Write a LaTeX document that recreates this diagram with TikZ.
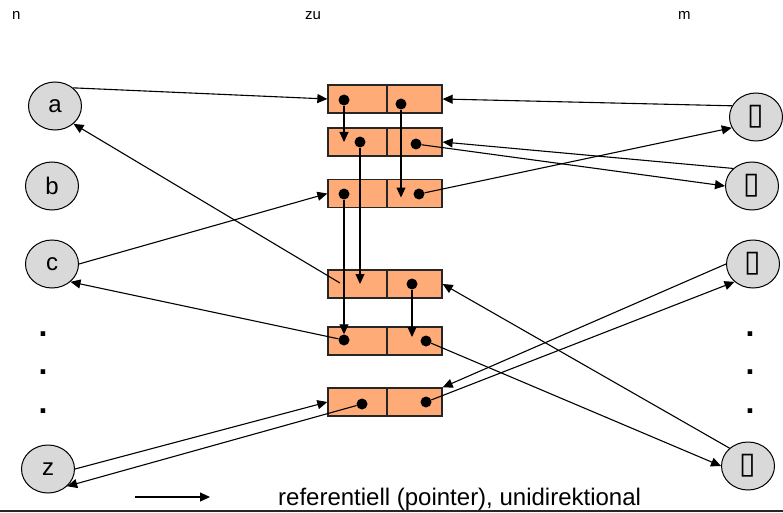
\documentclass[tikz,border=0pt]{standalone}
\usepackage{fontspec}
\setmainfont{Liberation Sans}
\newfontfamily\symfont{DejaVu Sans}
\usetikzlibrary{arrows.meta,shapes.geometric}
\definecolor{boxfill}{RGB}{255,171,120}
\definecolor{circfill}{RGB}{217,217,217}
\begin{document}
\begin{tikzpicture}[x=1pt,y=-1pt,
  cell/.style={draw=black!85, line width=1.3pt, fill=boxfill, minimum height=28pt, inner sep=0pt},
  var/.style={ellipse, draw, line width=1pt, fill=circfill, minimum width=53pt, minimum height=48pt, inner sep=0pt, font=\fontsize{24}{24}\selectfont},
  tofu/.style={var, font=\symfont\fontsize{30}{30}\selectfont},
  dot/.style={circle, fill=black, minimum size=11pt, inner sep=0pt},
  vdot/.style={inner sep=0pt, font=\bfseries\fontsize{32}{32}\selectfont},
  ptr/.style={line width=1.1pt, -{Triangle[length=10pt,width=9pt]}},
  lbl/.style={font=\fontsize{15}{15}\selectfont, anchor=base west, inner sep=0pt}]
\useasboundingbox (0,0) rectangle (783,513);
\fill[white] (0,0) rectangle (783,513);

% column labels
\node[lbl] (n) at (12,20) {n};
\node[lbl] (zu) at (305,20) {zu};
\node[lbl] (m) at (678,20) {m};

% boxes
\foreach \i/\y in {1/99,2/142,3/193.5,4/284,5/341,6/402}{
  \node[cell, minimum width=59pt] (L\i) at (357.5,\y) {};
  \node[cell, minimum width=55pt] (R\i) at (414.5,\y) {};
}

% left variables
\node[var] (a) at (55,106) {a};
\node[var] (b) at (52,186) {b};
\node[var] (c) at (52,264) {c};
\node[var] (z) at (48,469) {z};
\node[vdot] (ld1) at (43,334) {.};
\node[vdot] (ld2) at (43,372) {.};
\node[vdot] (ld3) at (43,411) {.};

% right variables
\node[tofu] (r1) at (756,117) {▯};
\node[tofu] (r2) at (752,186) {▯};
\node[tofu] (r3) at (753,264) {▯};
\node[tofu] (r4) at (748,466) {▯};
\node[vdot] (rd1) at (750,334) {.};
\node[vdot] (rd2) at (750,372) {.};
\node[vdot] (rd3) at (750,411) {.};

% pointer dots
\node[dot] (d1l) at (344,100) {};
\node[dot] (d1r) at (401,104) {};
\node[dot] (d2l) at (360,142) {};
\node[dot] (d2r) at (416,144) {};
\node[dot] (d3l) at (344,194) {};
\node[dot] (d3r) at (419,194) {};
\node[dot] (d4r) at (412,284) {};
\node[dot] (d5l) at (344,340) {};
\node[dot] (d5r) at (426,341) {};
\node[dot] (d6l) at (362,404) {};
\node[dot] (d6r) at (426,402) {};
\coordinate (s4) at (340,283);

% connectors
\draw[ptr] (a.45) -- (L1.west);
\draw[ptr] (r1.155) -- (R1.east);
\draw[ptr] (d1l) -- (d1l |- L2);
\draw[ptr] (d1r) -- ([yshift=-4pt]d1r |- R3);
\draw[ptr] (r2.137) -- (R2.east);
\draw[ptr] (d2r) -- (r2.west);
\draw[ptr] (d2l) -- (d2l |- L4);
\draw[ptr] (d3r) -- (r1.204);
\draw[ptr] (c.east) -- (L3.west);
\draw[ptr] (d3l) -- (d5l);
\draw[ptr] (s4) -- (a.-44);
\draw[ptr] (d4r) -- ([yshift=4pt]d4r |- R5);
\draw[ptr] (d5l) -- (c.-44);
\draw[ptr] (d5r) -- (r4.west);
\draw[ptr] (r4.136) -- (R4.east);
\draw[ptr] (r3.west) -- (R6.north east);
\draw[ptr] (d6r) -- (r3.224);
\draw[ptr] (z.east) -- (L6.west);
\draw[ptr] (d6l) -- (z.-42);

% legend
\coordinate (lg1) at (135,497);
\coordinate (lg2) at (210,497);
\draw[ptr] (lg1) -- (lg2);
\node[anchor=base west, inner sep=0pt, font=\fontsize{24}{24}\selectfont] (legend) at (278,505) {referentiell (pointer), unidirektional};
\draw[line width=1.5pt, black!85] (0,511) -- (783,511);
\end{tikzpicture}
\end{document}
